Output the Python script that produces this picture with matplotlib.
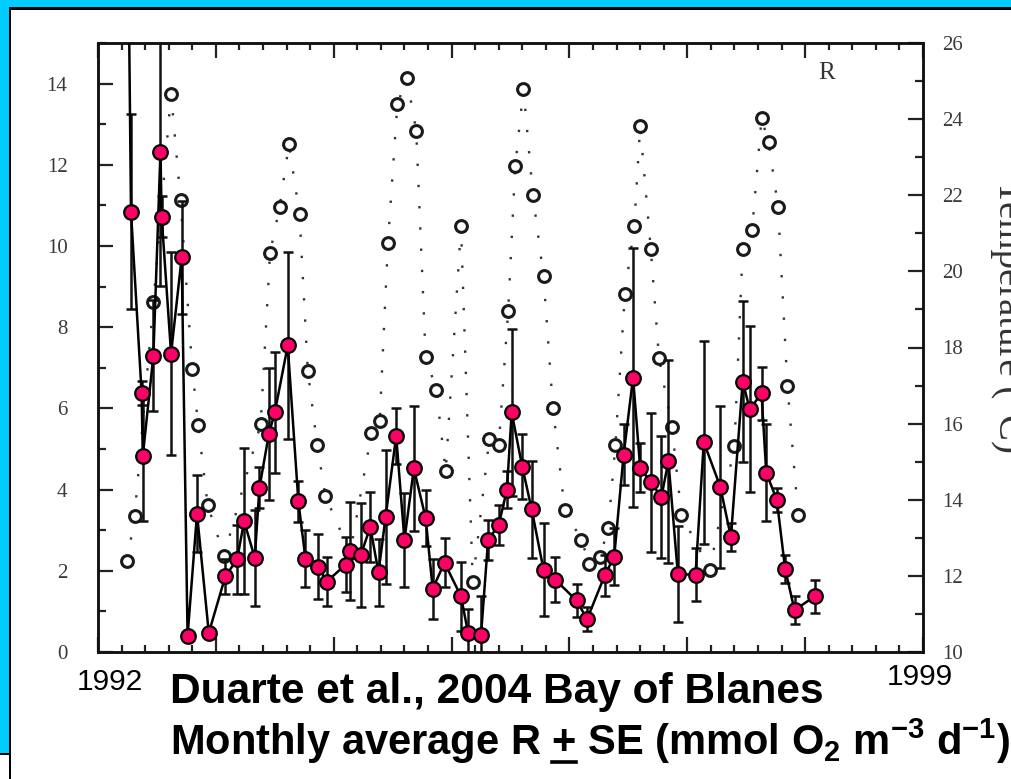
import matplotlib
matplotlib.use("Agg")
import matplotlib.pyplot as plt
from matplotlib.patches import Rectangle
from matplotlib.lines import Line2D
from matplotlib.ticker import MultipleLocator

# ---------------- data ----------------
# Respiration R (mmol O2 m-3 d-1), monthly averages with SE
r_year = [1992.26, 1992.28, 1992.37, 1992.38, 1992.47, 1992.53, 1992.54, 1992.62,
          1992.71, 1992.76, 1992.84, 1992.94, 1993.08, 1993.18, 1993.24, 1993.33,
          1993.37, 1993.45, 1993.50, 1993.61, 1993.70, 1993.76, 1993.87, 1993.94,
          1994.10, 1994.14, 1994.23, 1994.31, 1994.38, 1994.44, 1994.53, 1994.60,
          1994.68, 1994.78, 1994.84, 1994.94, 1995.08, 1995.14, 1995.25, 1995.31,
          1995.40, 1995.47, 1995.51, 1995.60, 1995.68, 1995.78, 1995.88, 1996.06,
          1996.15, 1996.30, 1996.38, 1996.46, 1996.54, 1996.60, 1996.69, 1996.78,
          1996.84, 1996.92, 1997.07, 1997.14, 1997.28, 1997.37, 1997.47, 1997.53,
          1997.63, 1997.67, 1997.76, 1997.83, 1997.91, 1998.08]
r_val = [16.5, 10.84, 6.38, 4.83, 7.30, 12.32, 10.72, 7.35,
         9.72, 0.39, 3.41, 0.47, 1.86, 2.28, 3.22, 2.32,
         4.05, 5.37, 5.90, 7.55, 3.71, 2.30, 2.10, 1.73,
         2.15, 2.49, 2.39, 3.08, 1.96, 3.32, 5.32, 2.76,
         4.52, 3.30, 1.56, 2.20, 1.37, 0.47, 0.42, 2.76,
         3.13, 4.00, 5.90, 4.56, 3.51, 2.03, 1.78, 1.27,
         0.81, 1.89, 2.35, 4.86, 6.76, 4.54, 4.18, 3.82,
         4.70, 1.92, 1.90, 5.17, 4.07, 2.83, 6.66, 5.98,
         6.37, 4.42, 3.74, 2.05, 1.03, 1.37]
r_se = [1.0, 2.4, 0.3, 1.6, 1.37, 3.3, 0.5, 2.5,
        1.4, 0.1, 0.95, 0.1, 0.43, 0.86, 1.8, 1.18,
        0.5, 1.63, 1.49, 2.3, 0.5, 0.7, 0.8, 0.6,
        0.68, 1.2, 1.27, 0.87, 0.82, 1.65, 0.7, 1.15,
        1.53, 0.7, 0.74, 0.6, 0.85, 0.6, 0.95, 0.5,
        0.5, 0.45, 2.05, 0.8, 1.2, 1.15, 0.56, 0.4,
        0.3, 0.5, 0.7, 0.75, 3.19, 0.6, 1.71, 1.5,
        2.5, 1.19, 0.65, 2.5, 2.0, 0.35, 1.98, 2.05,
        0.65, 1.2, 0.3, 0.34, 0.34, 0.41]

# Water temperature (deg C)
t_year = [1992.25, 1992.31, 1992.47, 1992.62, 1992.70, 1992.80, 1992.85, 1992.93,
          1993.07, 1993.38, 1993.46, 1993.54, 1993.62, 1993.71, 1993.78, 1993.86,
          1993.93, 1994.14, 1994.32, 1994.39, 1994.46, 1994.54, 1994.62, 1994.70,
          1994.78, 1994.87, 1994.95, 1995.08, 1995.18, 1995.32, 1995.40, 1995.48,
          1995.54, 1995.61, 1995.69, 1995.78, 1995.86, 1995.96, 1996.10, 1996.17,
          1996.26, 1996.33, 1996.39, 1996.47, 1996.55, 1996.60, 1996.69, 1996.76,
          1996.87, 1996.95, 1997.19, 1997.40, 1997.47, 1997.55, 1997.63, 1997.69,
          1997.77, 1997.85, 1997.94]
t_val = [12.40, 13.56, 19.19, 24.67, 21.88, 17.43, 15.96, 13.87,
         12.53, 15.98, 20.49, 21.68, 23.34, 21.50, 17.39, 15.43,
         14.09, 12.60, 15.75, 16.06, 20.75, 24.39, 25.07, 23.70,
         17.76, 16.89, 14.75, 21.19, 11.83, 15.59, 15.43, 18.95,
         22.76, 24.80, 22.00, 19.87, 16.42, 13.74, 12.95, 12.32,
         12.50, 13.27, 15.43, 19.40, 21.19, 23.81, 20.60, 17.72,
         15.90, 13.61, 12.16, 15.41, 20.60, 21.09, 24.02, 23.39,
         21.70, 16.98, 13.60]

left_ticks = [0, 2, 4, 6, 8, 10, 12, 14]
right_ticks = [10, 12, 14, 16, 18, 20, 22, 24, 26]

# ---------------- figure ----------------
plt.rcParams['mathtext.fontset'] = 'custom'
plt.rcParams['mathtext.rm'] = 'Liberation Sans:bold'
plt.rcParams['mathtext.it'] = 'Liberation Sans:bold'
plt.rcParams['mathtext.bf'] = 'Liberation Sans:bold'

W, H = 1012, 779
fig = plt.figure(figsize=(W / 100, H / 100), dpi=100)
fig.patch.set_facecolor('white')


def fx(x):
    return x / W


def fy(y):
    return 1 - y / H


def rect(x0, y0, x1, y1, color, z=0):
    fig.add_artist(Rectangle((fx(x0), fy(y1)), (x1 - x0) / W, (y1 - y0) / H,
                             transform=fig.transFigure, facecolor=color,
                             edgecolor='none', zorder=z))


CYAN = '#00CCFF'
rect(0, 0, W, 8, CYAN)
rect(0, 0, 9.5, 753, CYAN)
rect(9.5, 7.5, W, 9.5, 'black', 1)
rect(9, 7.5, 11, H, 'black', 1)
rect(0, 753, 10, 755, 'black', 1)

# host axes = temperature (right scale), twin = R (left scale) so R is on top
ax_t = fig.add_axes([fx(98), fy(652), (923 - 98) / W, (652 - 43) / H])
ax_r = ax_t.twinx()
ax_t.set_xlim(1992, 1999)
ax_t.set_ylim(10, 26)
ax_r.set_ylim(0, 15)
ax_t.yaxis.tick_right()
ax_r.yaxis.tick_left()

# temperature: dotted line with open circles
ax_t.plot(t_year, t_val, ls=(0, (1, 8)), color='#333333', lw=1.7, zorder=2)
ax_t.plot(t_year, t_val, ls='none', marker='o', ms=8.5, mfc='white',
          mec='#1a1a1a', mew=2.2, zorder=3)

# respiration: error bars, solid line, red markers
ax_r.errorbar(r_year, r_val, yerr=r_se, fmt='none', ecolor='#111111',
              elinewidth=1.8, capsize=3.8, capthick=1.8, zorder=2)
ax_r.plot(r_year, r_val, '-', color='black', lw=1.8, zorder=3)
ax_r.plot(r_year, r_val, ls='none', marker='o', ms=10.5, mfc='#FF0066',
          mec='black', mew=1.6, zorder=4)

# axes styling
for a in (ax_t, ax_r):
    for s in a.spines.values():
        s.set_linewidth(1.8)
        s.set_color('#111111')

ax_t.xaxis.set_major_locator(MultipleLocator(1))
ax_t.xaxis.set_minor_locator(MultipleLocator(0.2))
ax_t.tick_params(axis='x', which='both', direction='in', top=True, bottom=True,
                 labelbottom=False, labeltop=False, width=1.6, color='#222222')
ax_t.tick_params(axis='x', which='major', length=11)
ax_t.tick_params(axis='x', which='minor', length=5)

ax_t.set_yticks(right_ticks)
ax_t.yaxis.set_minor_locator(MultipleLocator(1))
ax_t.tick_params(axis='y', which='both', direction='in', right=True, left=False,
                 labelright=True, labelleft=False, width=1.6, color='#222222',
                 labelsize=15, labelcolor='#3a3a3a', labelfontfamily='Liberation Serif',
                 pad=14)
ax_t.tick_params(axis='y', which='major', length=11)
ax_t.tick_params(axis='y', which='minor', length=6)

ax_r.set_yticks(left_ticks)
ax_r.yaxis.set_minor_locator(MultipleLocator(1))
ax_r.tick_params(axis='y', which='both', direction='in', left=True, right=False,
                 labelleft=True, labelright=False, width=1.6, color='#222222',
                 labelsize=15, labelcolor='#3a3a3a', labelfontfamily='Liberation Serif',
                 pad=22)
ax_r.tick_params(axis='y', which='major', length=11)
ax_r.tick_params(axis='y', which='minor', length=6)

# in-panel label and right axis title
fig.text(fx(827), fy(73), 'R', ha='center', va='center',
         family='Liberation Serif', size=18, color='#333333')
fig.text(fx(990), fy(180), 'Temperature (\u00b0C)', rotation=270, ha='left',
         va='top', family='Liberation Serif', size=28, color='#333333')

# bottom texts
fig.text(fx(77), fy(690), '1992', ha='left', va='baseline',
         family='Liberation Sans', size=21.5, color='black')
fig.text(fx(887), fy(685), '1999', ha='left', va='baseline',
         family='Liberation Sans', size=21.5, color='black')

tprops = dict(ha='left', va='baseline', family='Liberation Sans',
              weight='bold', size=30, color='black')
fig.text(fx(170), fy(703), 'Duarte et al., 2004 Bay of Blanes',
         **dict(tprops, size=30.6))
line2 = r'Monthly average R + SE (mmol O$_2$ m$^{-3}$ d$^{-1}$)'
fig.text(fx(170), fy(755), line2, **tprops)

# underline under the "+"
renderer = fig.canvas.get_renderer()
tmp1 = fig.text(fx(170), fy(755), 'Monthly average R +', **tprops)
tmp2 = fig.text(fx(170), fy(755), '+', **tprops)
bb1 = tmp1.get_window_extent(renderer)
bb2 = tmp2.get_window_extent(renderer)
tmp1.remove()
tmp2.remove()
xr = bb1.x1
xl = xr - bb2.width
fig.add_artist(Line2D([xl / W, xr / W], [fy(762), fy(762)],
                      transform=fig.transFigure, color='black', lw=2.6))

fig.savefig('out.png', dpi=100, facecolor=fig.get_facecolor())
